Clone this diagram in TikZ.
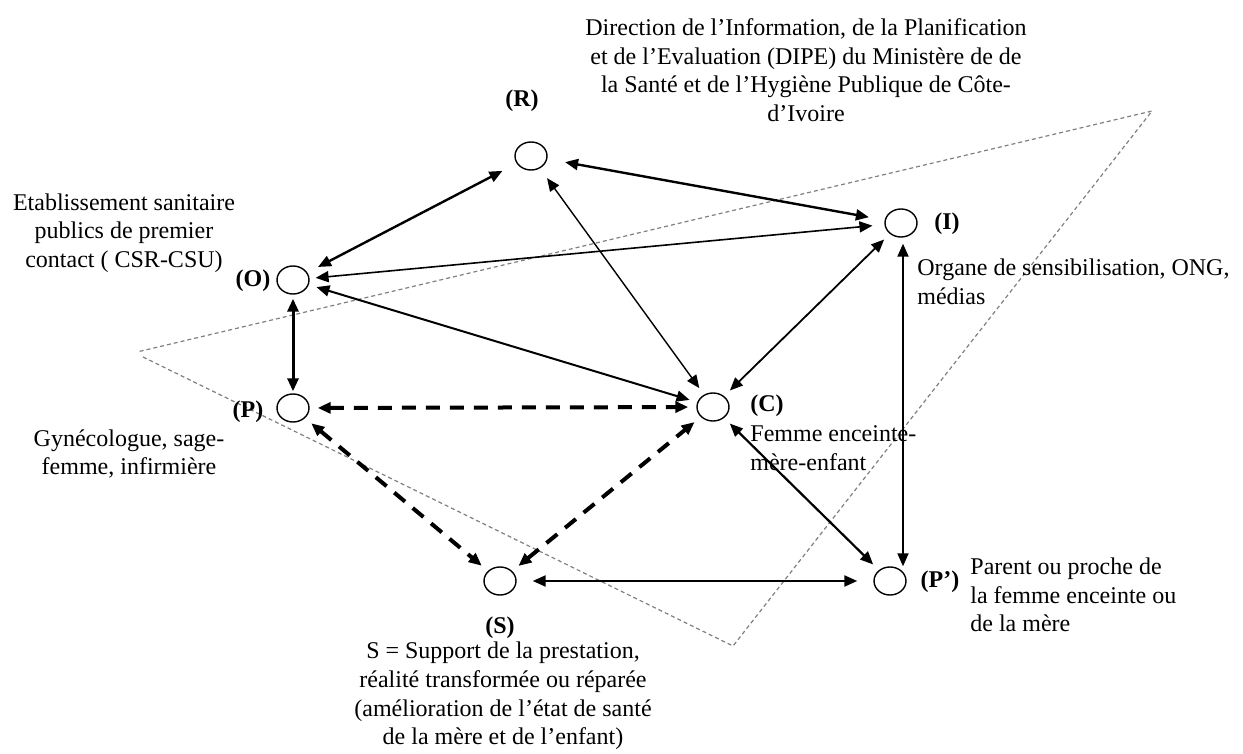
\documentclass[tikz,border=0pt]{standalone}
\usepackage{fontspec}
\setmainfont{Liberation Serif}
\usetikzlibrary{arrows.meta,shapes.geometric}

\tikzset{
    actor/.style={draw,ellipse,minimum width=16pt,minimum height=14pt,inner sep=0pt,line width=0.7pt},
    tag/.style={font=\fontsize{12}{14.3}\selectfont\bfseries,inner sep=0pt},
    info/.style={align=center,inner sep=0pt},
    infoleft/.style={align=left,inner sep=0pt,anchor=west},
    link/.style={{Triangle[length=6.5pt,width=5.5pt]}-{Triangle[length=6.5pt,width=5.5pt]},line width=0.9pt,shorten <=4pt,shorten >=4pt},
    dlink/.style={link,line width=2pt,dash pattern=on 7pt off 5pt},
    zone/.style={gray,line width=0.6pt,dash pattern=on 2pt off 1.5pt}
}

\begin{document}
\begin{tikzpicture}[x=0.5pt,y=-0.5pt,font=\fontsize{12}{14.3}\selectfont]
    \useasboundingbox (0,0) rectangle (1243,754);
    %dotted zone
    \coordinate (zl) at (137,352);
    \coordinate (zr) at (1152,111);
    \coordinate (zb) at (733,646);
    \draw[zone] (143,357) -- (zb) -- (zr) -- (zl);
    %actors
    \foreach \n/\x/\y in {R/531/156, I/901/223, O/293/280, P/293/408, C/713/407, S/500/581, Pp/890/581}
        {%
            \node[actor] (\n) at (\x,\y) {};
        }
    %tags
    \node[tag] (Rtag) at (522,101) {(R)};
    \node[tag] (Itag) at (947,224) {(I)};
    \node[tag] (Otag) at (253,281) {(O)};
    \node[tag] (Ptag) at (248,412) {(P)};
    \node[tag] (Ctag) at (767,406) {(C)};
    \node[tag] (Pptag) at (940,582) {(P’)};
    \node[tag] (Stag) at (500,628) {(S)};
    %texts
    \node[info] (Rtext) at (806,70) {Direction de l’Information, de la Planification\\et de l’Evaluation (DIPE) du Ministère de de\\la Santé et de l’Hygiène Publique de Côte-\\d’Ivoire};
    \node[info] (Otext) at (124,233) {Etablissement sanitaire\\publics de premier\\contact ( CSR-CSU)};
    \node[info] (Ptext) at (129,454) {Gynécologue, sage-\\femme, infirmière};
    \node[infoleft] (Itext) at (917,282) {Organe de sensibilisation, ONG,\\médias};
    \node[infoleft] (Ctext) at (750,448) {Femme enceinte-\\mère-enfant};
    \node[infoleft] (Pptext) at (970,595) {Parent ou proche de\\la femme enceinte ou\\de la mère};
    \node[info] (Stext) at (503,696) {S = Support de la prestation,\\réalité transformée ou réparée\\(amélioration de l’état de santé\\de la mère et de l’enfant)};
    %draw links
    \draw[link,line width=1.2pt,shorten <=6pt,shorten >=8pt] (O) -- (R);
    \draw[link,line width=1.2pt,shorten <=9pt,shorten >=8pt] (R) -- (I);
    \draw[link,line width=0.7pt,shorten <=6pt] (R) -- (C);
    \draw[link,line width=0.8pt,shorten <=3pt,shorten >=6pt] (O) -- (I);
    \draw[link,line width=1pt] (O) -- (C);
    \draw[link,line width=1.5pt,shorten <=2pt,shorten >=1pt] (O) -- (P);
    \draw[link,line width=0.9pt] (C) -- (I);
    \draw[link,line width=1pt,shorten <=3pt,shorten >=0pt] ([xshift=1pt]I.south) -- ([xshift=1pt]I.south |- Pp.north);
    \draw[link,line width=1.1pt] (C) -- (Pp);
    \draw[link,line width=1.1pt,shorten <=8pt,shorten >=8pt] (S) -- (Pp);
    \draw[dlink] (P) -- (C);
    \draw[dlink] (P) -- (S);
    \draw[dlink] (S) -- (C);
\end{tikzpicture}
\end{document}
